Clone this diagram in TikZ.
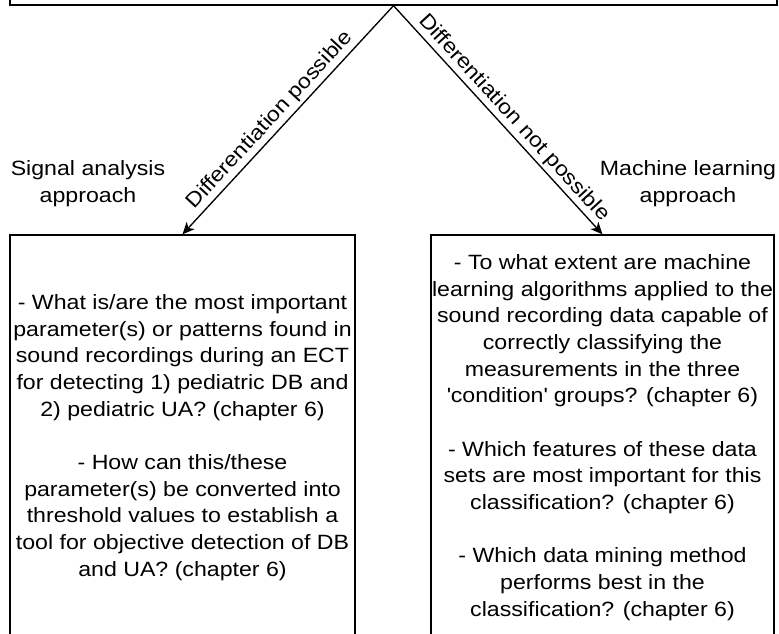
\documentclass[tikz,border=0pt]{standalone}
\usepackage{fontspec}
\setmainfont{Liberation Sans}[FakeStretch=1.12]
\usetikzlibrary{arrows.meta}
\begin{document}
\begin{tikzpicture}[x=0.75pt,y=-0.75pt,
  txt/.style={font=\fontsize{15.5}{20}\selectfont, align=center, inner sep=0pt},
  box/.style={draw, line width=1pt, rectangle, inner sep=0pt, font=\fontsize{15.5}{20}\selectfont, align=center},
  conn/.style={line width=1pt, -{Stealth[length=9pt,width=8pt,inset=2.5pt]}},
  elabel/.style={font=\fontsize{15.5}{20}\selectfont, sloped, above, inner sep=2pt}
]
\useasboundingbox (0,0) rectangle (779,633);
\clip (0,0) rectangle (779,633);
\node[box, minimum width=575.25pt, minimum height=75pt] (top) at (393.5,-45) {};
\node[box, minimum width=258.75pt, minimum height=303.75pt] (left) at (182.5,437.5)
 {- What is/are the most important\\
  parameter(s) or patterns found in\\
  sound recordings during an ECT\\
  for detecting 1) pediatric DB and\\
  2) pediatric UA? (chapter 6)\\[20pt]
  - How can this/these\\
  parameter(s) be converted into\\
  threshold values to establish a\\
  tool for objective detection of DB\\
  and UA? (chapter 6)};
\node[box, minimum width=257.25pt, minimum height=303.75pt] (right) at (602.5,437.5)
 {- To what extent are machine\\
  learning algorithms applied to the\\
  sound recording data capable of\\
  correctly classifying the\\
  measurements in the three\\
  \textquotesingle condition\textquotesingle{} groups? (chapter 6)\\[20pt]
  - Which features of these data\\
  sets are most important for this\\
  classification? (chapter 6)\\[20pt]
  - Which data mining method\\
  performs best in the\\
  classification? (chapter 6)};
\node[txt, anchor=base] (sig) at (88,202) {Signal analysis\\approach};
\node[txt, anchor=base] (ml) at (688,202) {Machine learning\\approach};
\draw[conn] (top.south) -- node[elabel, pos=0.54] (lp) {Differentiation possible} (left.north);
\draw[conn] (top.south) -- node[elabel, pos=0.53] (rp) {Differentiation not possible} (right.north);
\end{tikzpicture}
\end{document}
